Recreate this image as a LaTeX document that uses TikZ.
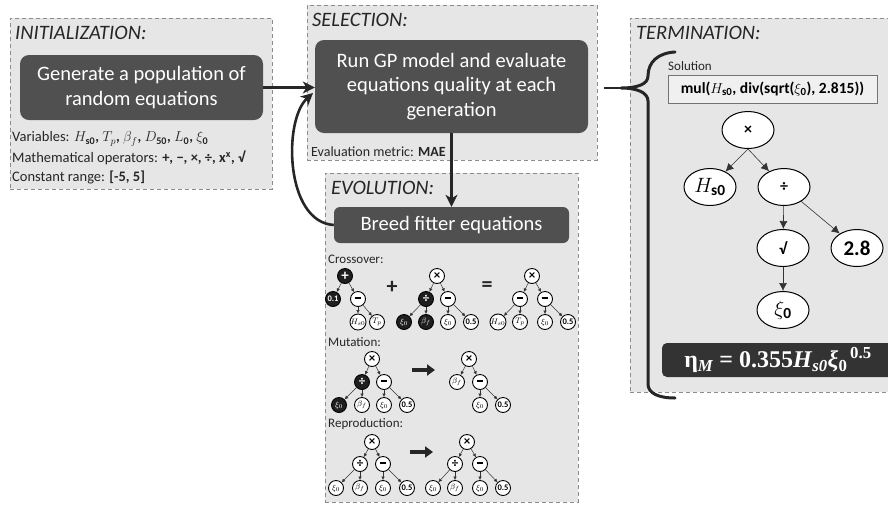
\documentclass[tikz,border=0pt]{standalone}
\usepackage{amsmath}
\usepackage{fontspec}
\setmainfont{Carlito}
\newfontfamily\libser{Liberation Serif}
\usetikzlibrary{arrows.meta,shapes.geometric}
\definecolor{panelc}{HTML}{E6E6E6}
\definecolor{dashc}{HTML}{8C8C8C}
\definecolor{darkc}{HTML}{505050}
\definecolor{eqc}{HTML}{333333}
\definecolor{linec}{HTML}{262626}
\definecolor{txtc}{HTML}{262626}
\newcommand{\myeqtext}{{\libser\bfseries η\textsubscript{\itshape M} = 0.355\textit{H}\textsubscript{\itshape s0}\textit{ξ}\textsubscript{0}\textsuperscript{\,0.5}}}
\newcommand{\mybar}{\rule[2.2pt]{6.5pt}{2.3pt}}
\begin{document}
\begin{tikzpicture}[x=1pt,y=-1pt,
  panelbox/.style={draw=dashc, dashed, dash pattern=on 4pt off 3pt, fill=panelc, line width=0.9pt, anchor=north west, inner sep=0},
  darkbox/.style={fill=darkc, rounded corners=9pt, text=white, font=\fontsize{20.5}{24.5}\selectfont, align=center, inner sep=0},
  ptitle/.style={font=\fontsize{20.5}{22}\selectfont\itshape, anchor=west, text=txtc, inner sep=0},
  small/.style={font=\fontsize{14.5}{16}\selectfont, anchor=west, text=txtc, inner sep=0},
  tiny/.style={font=\fontsize{13}{14}\selectfont, anchor=west, text=txtc, inner sep=0},
  tnode/.style={ellipse, draw=black, fill=white, minimum width=52, minimum height=37, inner sep=0, line width=1pt},
  wc/.style={circle, draw=black, fill=white, minimum size=15, inner sep=0, line width=0.9pt, font=\fontsize{8.5}{9}\selectfont},
  bc/.style={wc, fill=black!88, text=white},
  opc/.style={font=\fontsize{13}{13}\selectfont\bfseries},
  numc/.style={font=\fontsize{8.5}{9}\selectfont\bfseries},
  sarr/.style={-{Latex[length=3.5,width=3.5]}, line width=0.5pt, draw=black!80},
  tarr/.style={-{Latex[length=8,width=8]}, line width=0.6pt, draw=black!80},
  bigarr/.style={-{Stealth[length=12,width=12,inset=3.5]}, line width=2.6pt, draw=linec},
  fatarr/.style={-{Triangle[length=8,width=11]}, line width=3.2pt, draw=linec},
  eqbox/.style={fill=eqc, rounded corners=5pt, minimum width=232, minimum height=34, inner sep=0, text=white, font=\fontsize{24}{26}\selectfont}
]
\useasboundingbox (0,0) rectangle (888,504);

% ---------- panels ----------
\node[panelbox, minimum width=262, minimum height=171] (pinit) at (10,18) {};
\node[panelbox, minimum width=290, minimum height=155] (psel) at (307,5) {};
\node[panelbox, minimum width=253, minimum height=329] (pevo) at (325,173) {};
\node[panelbox, minimum width=262, minimum height=374] (pterm) at (630,18) {};

\node[ptitle] (tinit) at (15,33) {INITIALIZATION:};
\node[ptitle] (tsel) at (312,20) {SELECTION:};
\node[ptitle] (tevo) at (331,188) {EVOLUTION:};
\node[ptitle] (tterm) at (636,33) {TERMINATION:};

% ---------- dark boxes ----------
\node[darkbox, minimum width=243, minimum height=65] (gen) at (141.5,87.5) {Generate a population of\\random equations};
\node[darkbox, minimum width=273, minimum height=93] (sel) at (451.5,86.5) {Run GP model and evaluate\\equations quality at each\\generation};
\node[darkbox, minimum width=235, minimum height=36, rounded corners=6pt] (breed) at (451.5,225) {Breed fitter equations};

% ---------- init texts ----------
\node[small] (vars) at (12,139) {Variables: $H_{\textbf{s0}}$\textbf{,} $T_p$\textbf{,} $\beta_f$\textbf{,} $D_{\textbf{50}}$\textbf{,} $L_{\textbf{0}}$\textbf{,} $\xi_{\textbf{0}}$};
\node[small] (ops) at (12,158) {Mathematical operators: \textbf{+, −, ×, ÷, x\textsuperscript{x}, √}};
\node[small] (crange) at (12,177) {Constant range: \textbf{[-5, 5]}};
\node[small, font=\fontsize{14}{16}\selectfont] (metric) at (311,152) {Evaluation metric: \textbf{MAE}};

% ---------- main connectors ----------
\draw[bigarr] (gen.east) -- (gen.east -| sel.west);
\coordinate (selin) at (313,93);
\draw[bigarr] (breed.west) .. controls (285,222) and (283,120) .. (selin);
\draw[bigarr] (sel.south) -- (breed.north);
\coordinate (selout) at (604,88);
\coordinate (cusp) at (621,88);
\draw[line width=2.6pt, draw=linec] (selout) -- (cusp);
\draw[line width=3pt, draw=linec, line cap=round] (675,52) .. controls (658,53) and (648,62) .. (648,76) .. controls (648,84) and (638,88) .. (cusp) .. controls (638,88) and (648,93) .. (648,101) -- (648,384) .. controls (648,393) and (658,398) .. (675,398);

% ---------- termination ----------
\node[tiny] (soltxt) at (668,66) {Solution};
\node[draw=black!55, fill=black!6, line width=0.9pt, minimum width=209, minimum height=28, inner sep=0, font=\fontsize{15.5}{17}\selectfont\bfseries] (sol) at (772.5,89) {mul($H_{\textbf{s0}}$, div(sqrt($\xi_{\textbf{0}}$), 2.815))};
\node[tnode, font=\fontsize{16}{17}\selectfont\bfseries] (times) at (748,130) {×};
\node[tnode, font=\fontsize{22}{24}\selectfont] (hs) at (710,187) {$H_{\textbf{s0}}$};
\node[tnode, font=\fontsize{16}{17}\selectfont\bfseries] (dv) at (784,187) {÷};
\node[tnode, font=\fontsize{16}{17}\selectfont\bfseries] (sq) at (783,248) {√};
\node[tnode, font=\fontsize{21}{22}\selectfont\bfseries] (c28) at (857,248) {2.8};
\node[tnode, font=\fontsize{22}{24}\selectfont] (xi) at (783,310) {$\xi_{\textbf{0}}$};
\draw[tarr] (times.south) -- (hs);
\draw[tarr] (times.south) -- (dv);
\draw[tarr] (dv) -- (sq);
\draw[tarr] (dv) -- (c28);
\draw[tarr] (sq) -- (xi);
\node[eqbox] (eqn) at (778,360) {\myeqtext};

% ---------- evolution: crossover ----------
\node[tiny] (lcross) at (328,259) {Crossover:};
\node[bc, font=\fontsize{15}{15}\selectfont\bfseries] (a1) at (345,276) {+};
\node[bc, numc] (a2) at (333,299) {0.1};
\node[wc] (a3) at (358,299) {\mybar};
\node[wc] (a4) at (358,322) {$H_{s0}$};
\node[wc] (a5) at (377,322) {$T_p$};
\draw[sarr] (a1) -- (a2); \draw[sarr] (a1) -- (a3);
\draw[sarr] (a3) -- (a4); \draw[sarr] (a3) -- (a5);
\node[font=\fontsize{22}{22}\selectfont\bfseries, text=txtc] (plus) at (392,287) {+};

\node[wc, opc] (b1) at (437,276) {×};
\node[bc, opc] (b2) at (426,299) {÷};
\node[wc] (b3) at (448,299) {\mybar};
\node[bc] (b4) at (404,322) {$\xi_0$};
\node[bc] (b5) at (426,322) {$\beta_f$};
\node[wc] (b6) at (448,322) {$\xi_0$};
\node[wc, numc] (b7) at (471,322) {0.5};
\draw[sarr] (b1) -- (b2); \draw[sarr] (b1) -- (b3);
\draw[sarr] (b2) -- (b4); \draw[sarr] (b2) -- (b5);
\draw[sarr] (b3) -- (b6); \draw[sarr] (b3) -- (b7);
\node[font=\fontsize{22}{22}\selectfont\bfseries, text=txtc] (eqs) at (487,287) {=};

\node[wc, opc] (c1) at (532,276) {×};
\node[wc] (c2) at (520,299) {\mybar};
\node[wc] (c3) at (545,299) {\mybar};
\node[wc] (c4) at (498,322) {$H_{s0}$};
\node[wc] (c5) at (520,322) {$T_p$};
\node[wc] (c6) at (545,322) {$\xi_0$};
\node[wc, numc] (c7) at (568,322) {0.5};
\draw[sarr] (c1) -- (c2); \draw[sarr] (c1) -- (c3);
\draw[sarr] (c2) -- (c4); \draw[sarr] (c2) -- (c5);
\draw[sarr] (c3) -- (c6); \draw[sarr] (c3) -- (c7);

% ---------- evolution: mutation ----------
\node[tiny] (lmut) at (328,342) {Mutation:};
\node[wc, opc] (d1) at (372,359) {×};
\node[bc, opc] (d2) at (362,382) {÷};
\node[wc] (d3) at (384,382) {\mybar};
\node[bc] (d4) at (339,405) {$\xi_0$};
\node[wc] (d5) at (362,405) {$\beta_f$};
\node[wc] (d6) at (384,405) {$\xi_0$};
\node[wc, numc] (d7) at (407,405) {0.5};
\draw[sarr] (d1) -- (d2); \draw[sarr] (d1) -- (d3);
\draw[sarr] (d2) -- (d4); \draw[sarr] (d2) -- (d5);
\draw[sarr] (d3) -- (d6); \draw[sarr] (d3) -- (d7);
\coordinate (ma) at (412,370); \coordinate (mb) at (435,370);
\draw[fatarr] (ma) -- (mb);
\node[wc, opc] (e1) at (469,359) {×};
\node[wc] (e2) at (457,382) {$\beta_f$};
\node[wc] (e3) at (480,382) {\mybar};
\node[wc] (e4) at (480,405) {$\xi_0$};
\node[wc, numc] (e5) at (503,405) {0.5};
\draw[sarr] (e1) -- (e2); \draw[sarr] (e1) -- (e3);
\draw[sarr] (e3) -- (e4); \draw[sarr] (e3) -- (e5);

% ---------- evolution: reproduction ----------
\node[tiny] (lrep) at (328,424) {Reproduction:};
\node[wc, opc] (f1) at (372,442) {×};
\node[wc, opc] (f2) at (360,464) {÷};
\node[wc] (f3) at (383,464) {\mybar};
\node[wc] (f4) at (336,488) {$\xi_0$};
\node[wc] (f5) at (360,488) {$\beta_f$};
\node[wc] (f6) at (383,488) {$\xi_0$};
\node[wc, numc] (f7) at (407,488) {0.5};
\draw[sarr] (f1) -- (f2); \draw[sarr] (f1) -- (f3);
\draw[sarr] (f2) -- (f4); \draw[sarr] (f2) -- (f5);
\draw[sarr] (f3) -- (f6); \draw[sarr] (f3) -- (f7);
\coordinate (ra) at (410,452); \coordinate (rb) at (433,452);
\draw[fatarr] (ra) -- (rb);
\node[wc, opc] (g1) at (467,442) {×};
\node[wc, opc] (g2) at (455,464) {÷};
\node[wc] (g3) at (480,464) {\mybar};
\node[wc] (g4) at (433,488) {$\xi_0$};
\node[wc] (g5) at (455,488) {$\beta_f$};
\node[wc] (g6) at (480,488) {$\xi_0$};
\node[wc, numc] (g7) at (503,488) {0.5};
\draw[sarr] (g1) -- (g2); \draw[sarr] (g1) -- (g3);
\draw[sarr] (g2) -- (g4); \draw[sarr] (g2) -- (g5);
\draw[sarr] (g3) -- (g6); \draw[sarr] (g3) -- (g7);
\end{tikzpicture}
\end{document}
